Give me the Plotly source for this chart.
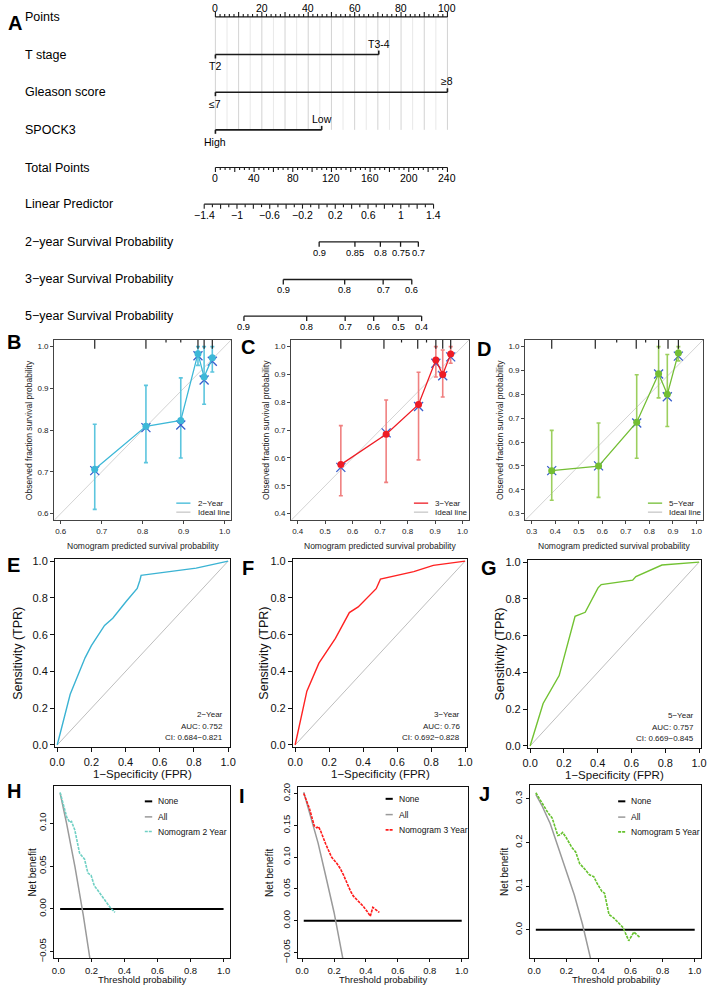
import plotly.graph_objects as go

FONT = "Liberation Sans, Arial, Helvetica, sans-serif"
W, H = 714, 992

# ======================= DATA =======================
# ---- A: nomogram ----
points_labels = [0, 20, 40, 60, 80, 100]
t_stage_levels = ["T2", "T3-4"]
t_stage_points = [0, 70.4]
gleason_levels = ["\u22647", "\u22658"]
gleason_points = [0, 100]
spock3_levels = ["High", "Low"]
spock3_points = [0, 45.8]
total_points_labels = [0, 40, 80, 120, 160, 200, 240]
lp_labels = [-1.4, -1, -0.6, -0.2, 0.2, 0.6, 1, 1.4]
lp_total_points = [-11.6, 225.6]          # total points at LP = -1.4 and LP = 1.4
surv2_labels = ["0.9", "0.85", "0.8", "0.75", "0.7"]
surv2_total_points = [107.3, 144.3, 170.6, 191.5, 209.9]
surv3_labels = ["0.9", "0.8", "0.7", "0.6"]
surv3_total_points = [70.2, 133.7, 173.5, 203.1]
surv5_labels = ["0.9", "0.8", "0.7", "0.6", "0.5", "0.4"]
surv5_total_points = [29.5, 94.4, 134.2, 163.7, 189.1, 213.3]

# ---- B-D: calibration ----
cal2_pred = [0.683, 0.808, 0.893, 0.935, 0.950, 0.970]
cal2_obs = [0.706, 0.809, 0.823, 0.983, 0.927, 0.973]
cal2_lo = [0.610, 0.722, 0.733, 0.955, 0.862, 0.939]
cal2_hi = [0.814, 0.907, 0.925, 1.000, 1.000, 1.000]
cal2_corr = [0.703, 0.806, 0.812, 0.978, 0.920, 0.965]
cal2_rug = [0.683, 0.808, 0.857, 0.893, 0.935, 0.950, 0.970]
cal2_rug_freq = [1.0, 1.0, 0.3, 0.3, 1.0, 1.0, 1.0]

cal3_pred = [0.557, 0.722, 0.840, 0.903, 0.928, 0.957]
cal3_obs = [0.576, 0.685, 0.792, 0.952, 0.900, 0.973]
cal3_lo = [0.464, 0.512, 0.593, 0.891, 0.819, 0.940]
cal3_hi = [0.716, 0.808, 0.908, 1.000, 0.988, 1.000]
cal3_corr = [0.566, 0.690, 0.785, 0.940, 0.895, 0.963]
cal3_rug = [0.557, 0.714, 0.778, 0.837, 0.869, 0.903, 0.928, 0.957]
cal3_rug_freq = [1.0, 1.0, 0.3, 1.0, 0.3, 1.0, 1.0, 1.0]

cal5_pred = [0.385, 0.584, 0.746, 0.839, 0.876, 0.923]
cal5_obs = [0.480, 0.499, 0.683, 0.886, 0.800, 0.973]
cal5_lo = [0.356, 0.368, 0.532, 0.785, 0.665, 0.940]
cal5_hi = [0.649, 0.680, 0.882, 1.000, 0.967, 1.000]
cal5_corr = [0.480, 0.500, 0.680, 0.885, 0.790, 0.960]
cal5_rug = [0.385, 0.570, 0.661, 0.744, 0.784, 0.839, 0.879, 0.923]
cal5_rug_freq = [1.0, 1.0, 0.3, 1.0, 0.3, 1.0, 1.0, 1.0]

# ---- E-G: ROC ----
roc2_fpr = [0.0, 0.076, 0.163, 0.20, 0.277, 0.325, 0.402, 0.468, 0.484, 0.491, 0.50, 0.698, 0.813, 1.0]
roc2_tpr = [0.0, 0.276, 0.474, 0.54, 0.650, 0.689, 0.779, 0.851, 0.896, 0.923, 0.924, 0.946, 0.962, 1.0]
roc2_auc, roc2_ci = "0.752", "0.684\u22120.821"
roc3_fpr = [0.0, 0.069, 0.140, 0.237, 0.319, 0.371, 0.477, 0.487, 0.502, 0.698, 0.813, 1.0]
roc3_tpr = [0.0, 0.293, 0.445, 0.580, 0.720, 0.751, 0.850, 0.875, 0.902, 0.943, 0.977, 1.0]
roc3_auc, roc3_ci = "0.76", "0.692\u22120.828"
roc5_fpr = [0.0, 0.077, 0.172, 0.266, 0.326, 0.402, 0.421, 0.607, 0.626, 0.780, 1.0]
roc5_tpr = [0.0, 0.231, 0.383, 0.705, 0.727, 0.860, 0.878, 0.902, 0.921, 0.984, 1.0]
roc5_auc, roc5_ci = "0.757", "0.669\u22120.845"

# ---- H-J: decision curves ----
none_thr = [0.01, 1.0]
none_nb = [0.0, 0.0]
dca2_all_thr = [0.01, 0.05, 0.10, 0.15, 0.20]
dca2_all_nb = [0.135, 0.099, 0.049, -0.007, -0.070]
dca2_thr = [0.01, 0.03, 0.05, 0.069, 0.079, 0.099, 0.128, 0.158, 0.178, 0.198, 0.217, 0.237, 0.277, 0.316, 0.342]
dca2_nb = [0.136, 0.120, 0.107, 0.101, 0.102, 0.092, 0.065, 0.058, 0.042, 0.039, 0.027, 0.022, 0.012, 0.001, -0.004]

dca3_all_thr = [0.01, 0.05, 0.10, 0.15, 0.20, 0.25, 0.27]
dca3_all_nb = [0.202, 0.165, 0.122, 0.068, 0.013, -0.053, -0.080]
dca3_thr = [0.01, 0.045, 0.076, 0.092, 0.102, 0.116, 0.147, 0.184, 0.218, 0.239, 0.259, 0.280, 0.304, 0.320,
            0.351, 0.382, 0.412, 0.427, 0.443, 0.473, 0.484]
dca3_nb = [0.200, 0.177, 0.149, 0.146, 0.148, 0.141, 0.121, 0.100, 0.090, 0.082, 0.072, 0.059, 0.046, 0.039,
           0.031, 0.023, 0.013, 0.007, 0.021, 0.015, 0.013]

dca5_all_thr = [0.01, 0.05, 0.10, 0.15, 0.20, 0.25, 0.30, 0.35, 0.37]
dca5_all_nb = [0.310, 0.283, 0.243, 0.190, 0.138, 0.080, 0.014, -0.062, -0.095]
dca5_thr = [0.01, 0.055, 0.086, 0.112, 0.147, 0.163, 0.177, 0.198, 0.234, 0.259, 0.283, 0.320, 0.344, 0.371,
            0.391, 0.422, 0.438, 0.466, 0.493, 0.523, 0.554, 0.589, 0.621, 0.658]
dca5_nb = [0.314, 0.287, 0.268, 0.256, 0.216, 0.218, 0.223, 0.212, 0.189, 0.178, 0.152, 0.137, 0.126, 0.122,
           0.107, 0.088, 0.084, 0.035, 0.028, 0.017, 0.005, -0.025, -0.005, -0.017]

# ======================= STYLE / LAYOUT CONSTANTS =======================
C2, C3, C5 = "#3DB8D7", "#EE1C25", "#73BE34"
E2, E3, E5 = "#5CC5DE", "#F08080", "#9CCF5E"
ROC_C = ["#3BB3D3", "#FF2222", "#72C232"]
DCA_C = ["#6FD0C4", "#FF1A1A", "#66C22E"]
BLUE_X = "#3A5FCD"

fig = go.Figure()
ann, shapes = [], []
layout_axes = {}


def xd(a, b):
    return [a / W, b / W]


def yd(top, bot):
    return [1 - bot / H, 1 - top / H]


def paper_text(txt, px, py, size, bold=False, anchor="center"):
    ann.append(dict(text=f"<b>{txt}</b>" if bold else txt, x=px / W, y=1 - py / H, xref="paper", yref="paper",
                    showarrow=False, xanchor=anchor, yanchor="middle",
                    font=dict(family=FONT, size=size, color="black")))


def segs(trace_x, trace_y, color, width, xa="x", ya="y", dash=None):
    fig.add_trace(go.Scatter(x=trace_x, y=trace_y, mode="lines", xaxis=xa, yaxis=ya,
                             line=dict(color=color, width=width, dash=dash), hoverinfo="skip",
                             showlegend=False))


# ======================= A: NOMOGRAM =======================
ROW = dict(points=13, tstage=51, gleason=89, spock=127, total=165, lp=202, s2=240, s3=278, s5=315)
LINE_C = "#1a1a1a"


def tp2p(tp):
    return tp * 100.0 / 240.0


def lp2p(lp):
    a, b = lp_total_points
    return tp2p(a + (lp - lp_labels[0]) / (lp_labels[-1] - lp_labels[0]) * (b - a))


def ntext(txt, x, y, size=10):
    ann.append(dict(text=txt, x=x, y=y, xref="x", yref="y", showarrow=False, xanchor="center",
                    yanchor="middle", font=dict(family=FONT, size=size, color="black")))


# vertical grid lines
gx, gy, gx2, gy2 = [], [], [], []
for i in range(0, 101, 5):
    if i % 10 == 0:
        gx += [i, i, None]; gy += [ROW["points"], ROW["spock"], None]
    else:
        gx2 += [i, i, None]; gy2 += [ROW["points"], ROW["spock"], None]
segs(gx2, gy2, "#e2e2e2", 0.8)
segs(gx, gy, "#c8c8c8", 0.8)

# Points axis (ticks up, labels above)
xs, ys = [0, 100, None], [ROW["points"]] * 2 + [None]
for i in range(0, 101, 2):
    L = 5 if i % 10 == 0 else 3
    xs += [i, i, None]; ys += [ROW["points"], ROW["points"] - L, None]
segs(xs, ys, LINE_C, 1.1)
for v in points_labels:
    ntext(str(v), v, ROW["points"] - 9, 10.5)


def level_row(levels, pts, row):
    xs = [pts[0], pts[-1], None, pts[0], pts[0], None, pts[-1], pts[-1], None]
    ys = [row, row, None, row, row + 4, None, row, row - 4, None]
    segs(xs, ys, LINE_C, 1.6)
    ntext(levels[0], pts[0], row + 12, 10.5)
    ntext(levels[-1], pts[-1], row - 11, 10.5)


level_row(t_stage_levels, t_stage_points, ROW["tstage"])
level_row(gleason_levels, gleason_points, ROW["gleason"])
level_row(spock3_levels, spock3_points, ROW["spock"])

# Total points
r = ROW["total"]
xs, ys = [tp2p(0), tp2p(240), None], [r, r, None]
for t in range(0, 241, 5):
    L = 4.5 if t % 20 == 0 else 2.5
    xs += [tp2p(t), tp2p(t), None]; ys += [r, r + L, None]
segs(xs, ys, LINE_C, 1.1)
for v in total_points_labels:
    ntext(str(v), tp2p(v), r + 11, 10.5)

# Linear predictor
r = ROW["lp"]
xs, ys = [lp2p(-1.4), lp2p(1.4), None], [r, r, None]
for k in range(-14, 15):
    L = 4.5 if k % 2 == 0 else 3
    xs += [lp2p(k / 10), lp2p(k / 10), None]; ys += [r, r + L, None]
segs(xs, ys, LINE_C, 1.1)
for v in lp_labels:
    ntext(("\u2212" if v < 0 else "") + f"{abs(v):g}", lp2p(v), r + 11, 10.5)


def surv_row(labels, tps, row):
    xs = [tp2p(tps[0]), tp2p(tps[-1]), None]
    ys = [row, row, None]
    for t in tps:
        xs += [tp2p(t), tp2p(t), None]; ys += [row, row + 5, None]
    segs(xs, ys, LINE_C, 1.3)
    for lab, t in zip(labels, tps):
        ntext(lab, tp2p(t), row + 11, 9.3)


surv_row(surv2_labels, surv2_total_points, ROW["s2"])
surv_row(surv3_labels, surv3_total_points, ROW["s3"])
surv_row(surv5_labels, surv5_total_points, ROW["s5"])

row_names = [("Points", "points"), ("T stage", "tstage"), ("Gleason score", "gleason"), ("SPOCK3", "spock"),
             ("Total Points", "total"), ("Linear Predictor", "lp"),
             ("2\u2212year Survival Probability", "s2"), ("3\u2212year Survival Probability", "s3"),
             ("5\u2212year Survival Probability", "s5")]
for name, key in row_names:
    ann.append(dict(text=name, x=17 / W, y=ROW[key], xref="paper", yref="y", showarrow=False,
                    xanchor="left", yanchor="middle", font=dict(family=FONT, size=12.5, color="black")))

layout_axes["xaxis"] = dict(domain=[0, 1], range=[-213 / 2.36, (W - 213) / 2.36], visible=False, fixedrange=True)
layout_axes["yaxis"] = dict(domain=yd(0, 335), range=[335, 0], visible=False, fixedrange=True)


# ======================= B-D: CALIBRATION =======================
def cal_panel(n, box, rng, ticks, pred, obs, lo, hi, corr, rug, rugf, col, ecol, name):
    xa, ya = f"x{n}", f"y{n}"
    x0, x1, y0, y1 = box
    fig.add_trace(go.Scatter(x=[0, 1.2], y=[0, 1.2], mode="lines", xaxis=xa, yaxis=ya,
                             line=dict(color="#D3D3D3", width=1), hoverinfo="skip", showlegend=False))
    fig.add_trace(go.Scatter(x=pred, y=obs, mode="markers", xaxis=xa, yaxis=ya, hoverinfo="skip",
                             showlegend=False, marker=dict(size=0.1, color=ecol),
                             error_y=dict(type="data", symmetric=False,
                                          array=[h - o for h, o in zip(hi, obs)],
                                          arrayminus=[o - l for o, l in zip(obs, lo)],
                                          color=ecol, thickness=1.6, width=2)))
    fig.add_trace(go.Scatter(x=pred, y=corr, mode="markers", xaxis=xa, yaxis=ya, hoverinfo="skip",
                             showlegend=False,
                             marker=dict(symbol="x-thin", size=9, line=dict(color=BLUE_X, width=1.3))))
    fig.add_trace(go.Scatter(x=pred, y=obs, mode="lines+markers", xaxis=xa, yaxis=ya, hoverinfo="skip",
                             showlegend=False, line=dict(color=col, width=1.3),
                             marker=dict(size=7, color=col)))
    for rx, f in zip(rug, rugf):
        shapes.append(dict(type="line", xref=xa, yref=f"{ya} domain", x0=rx, x1=rx, y0=1,
                           y1=1 - f * 9 / (y1 - y0), line=dict(color="#222", width=1.2)))
    # legend
    for k, (lab, c) in enumerate([(name, col), ("Ideal line", "#C8C8C8")]):
        yy = 0.095 - k * 0.05
        shapes.append(dict(type="line", xref=f"{xa} domain", yref=f"{ya} domain", x0=0.69, x1=0.77,
                           y0=yy, y1=yy, line=dict(color=c, width=1.3)))
        ann.append(dict(text=lab, xref=f"{xa} domain", yref=f"{ya} domain", x=0.80, y=yy, showarrow=False,
                        xanchor="left", yanchor="middle", font=dict(family=FONT, size=8, color="#222")))
    ann.append(dict(text="Observed fraction survival probability", xref=f"{xa} domain", yref=f"{ya} domain",
                    x=-0.142, y=0.5, textangle=-90, showarrow=False, xanchor="center", yanchor="middle",
                    font=dict(family=FONT, size=8.5, color="#222")))
    ann.append(dict(text="Nomogram predicted survival probability", xref=f"{xa} domain", yref=f"{ya} domain",
                    x=0.5, y=-0.143, showarrow=False, xanchor="center", yanchor="middle",
                    font=dict(family=FONT, size=8.5, color="#222")))
    common = dict(showgrid=False, zeroline=False, showline=True, mirror=True, linecolor="#444", linewidth=1,
                  ticks="outside", ticklen=3, tickcolor="#444", tickformat=".1f",
                  tickfont=dict(family=FONT, size=8, color="#222"), fixedrange=True, tickvals=ticks)
    layout_axes[f"xaxis{n}"] = dict(domain=xd(x0, x1), range=rng, anchor=ya, **common)
    layout_axes[f"yaxis{n}"] = dict(domain=yd(y0, y1), range=rng, anchor=xa, **common)


cal_panel(2, (49, 229, 339, 521), [0.584, 1.016], [0.6, 0.7, 0.8, 0.9, 1.0],
          cal2_pred, cal2_obs, cal2_lo, cal2_hi, cal2_corr, cal2_rug, cal2_rug_freq, C2, E2, "2\u2212Year")
cal_panel(3, (290, 471, 339, 521), [0.376, 1.024], [0.4, 0.5, 0.6, 0.7, 0.8, 0.9, 1.0],
          cal3_pred, cal3_obs, cal3_lo, cal3_hi, cal3_corr, cal3_rug, cal3_rug_freq, C3, E3, "3\u2212Year")
cal_panel(4, (528, 709, 339, 521), [0.272, 1.028], [0.3, 0.4, 0.5, 0.6, 0.7, 0.8, 0.9, 1.0],
          cal5_pred, cal5_obs, cal5_lo, cal5_hi, cal5_corr, cal5_rug, cal5_rug_freq, C5, E5, "5\u2212Year")


# ======================= E-G: ROC =======================
def roc_panel(n, box, fpr, tpr, col, name, auc, ci, ytitle_x):
    xa, ya = f"x{n}", f"y{n}"
    x0, x1, y0, y1 = box
    fig.add_trace(go.Scatter(x=[0, 1], y=[0, 1], mode="lines", xaxis=xa, yaxis=ya,
                             line=dict(color="#BEBEBE", width=1), hoverinfo="skip", showlegend=False))
    fig.add_trace(go.Scatter(x=fpr, y=tpr, mode="lines", xaxis=xa, yaxis=ya,
                             line=dict(color=col, width=1.4), hoverinfo="skip", showlegend=False))
    for k, t in enumerate([name, "AUC: " + auc, "CI: " + ci]):
        ann.append(dict(text=t, xref=f"{xa} domain", yref=f"{ya} domain", x=0.97, y=0.175 - k * 0.063,
                        showarrow=False, xanchor="right", yanchor="middle",
                        font=dict(family=FONT, size=8, color="#222")))
    ann.append(dict(text="Sensitivity (TPR)", xref=f"{xa} domain", yref=f"{ya} domain",
                    x=(ytitle_x - x0) / (x1 - x0), y=0.5, textangle=-90, showarrow=False,
                    xanchor="center", yanchor="middle", font=dict(family=FONT, size=12.5, color="#111")))
    ann.append(dict(text="1\u2212Specificity (FPR)", xref=f"{xa} domain", yref=f"{ya} domain",
                    x=0.5, y=-0.142, showarrow=False, xanchor="center", yanchor="middle",
                    font=dict(family=FONT, size=11.5, color="#111")))
    common = dict(showgrid=False, zeroline=False, showline=True, mirror=True, linecolor="#111", linewidth=1.2,
                  ticks="outside", ticklen=4, tickcolor="#111", tickformat=".1f",
                  tickvals=[0, 0.2, 0.4, 0.6, 0.8, 1.0], range=[-0.012, 1.012],
                  tickfont=dict(family=FONT, size=11, color="#111"), fixedrange=True)
    layout_axes[f"xaxis{n}"] = dict(domain=xd(x0, x1), anchor=ya, **common)
    layout_axes[f"yaxis{n}"] = dict(domain=yd(y0, y1), anchor=xa, **common)


roc_panel(5, (50, 228, 560, 750), roc2_fpr, roc2_tpr, ROC_C[0], "2\u2212Year", roc2_auc, roc2_ci, 12)
roc_panel(6, (292, 469, 560, 750), roc3_fpr, roc3_tpr, ROC_C[1], "3\u2212Year", roc3_auc, roc3_ci, 262)
roc_panel(7, (531, 707, 561, 751), roc5_fpr, roc5_tpr, ROC_C[2], "5\u2212Year", roc5_auc, roc5_ci, 502)


# ======================= H-J: DCA =======================
def dca_panel(n, box, yr, yticks, yfmt, all_t, all_nb, thr, nb, col, name, leg_rows, ytitle_x):
    xa, ya = f"x{n}", f"y{n}"
    x0, x1, y0, y1 = box
    fig.add_trace(go.Scatter(x=none_thr, y=none_nb, mode="lines", xaxis=xa, yaxis=ya,
                             line=dict(color="black", width=2), hoverinfo="skip", showlegend=False))
    fig.add_trace(go.Scatter(x=all_t, y=all_nb, mode="lines", xaxis=xa, yaxis=ya,
                             line=dict(color="#9A9A9A", width=1.5), hoverinfo="skip", showlegend=False))
    fig.add_trace(go.Scatter(x=thr, y=nb, mode="lines", xaxis=xa, yaxis=ya,
                             line=dict(color=col, width=1.6, dash="3px,1px"), hoverinfo="skip",
                             showlegend=False))
    for (lab, c, w, d), yy in zip([("None", "black", 2, None), ("All", "#9A9A9A", 1.5, None),
                                   (name, col, 1.6, "3px,1px")], leg_rows):
        shapes.append(dict(type="line", xref=f"{xa} domain", yref=f"{ya} domain", x0=0.515, x1=0.557,
                           y0=yy, y1=yy, line=dict(color=c, width=w, dash=d)))
        ann.append(dict(text=lab, xref=f"{xa} domain", yref=f"{ya} domain", x=0.58, y=yy, showarrow=False,
                        xanchor="left", yanchor="middle", font=dict(family=FONT, size=8.5, color="#111")))
    ann.append(dict(text="Net benefit", xref=f"{xa} domain", yref=f"{ya} domain",
                    x=(ytitle_x - x0) / (x1 - x0), y=0.5, textangle=-90, showarrow=False,
                    xanchor="center", yanchor="middle", font=dict(family=FONT, size=10, color="#111")))
    ann.append(dict(text="Threshold probability", xref="paper", yref="paper",
                    x=(x0 + x1) / 2 / W, y=0, showarrow=False, xanchor="center", yanchor="bottom",
                    font=dict(family=FONT, size=9.5, color="#111")))
    common = dict(showgrid=False, zeroline=False, showline=True, mirror=True, linecolor="#111", linewidth=1.2,
                  ticks="outside", ticklen=3, tickcolor="#111",
                  tickfont=dict(family=FONT, size=9.5, color="#111"), fixedrange=True)
    layout_axes[f"xaxis{n}"] = dict(domain=xd(x0, x1), anchor=ya, range=[-0.026, 1.04],
                                    tickvals=[0, 0.2, 0.4, 0.6, 0.8, 1.0], tickformat=".1f", **common)
    layout_axes[f"yaxis{n}"] = dict(domain=yd(y0, y1), anchor=xa, range=yr, tickvals=yticks,
                                    tickformat=yfmt, tickangle=-90, **common)


dca_panel(8, (49, 228, 789, 963), [-0.0576, 0.1436], [-0.05, 0, 0.05, 0.10], ".2f",
          dca2_all_thr, dca2_all_nb, dca2_thr, dca2_nb, DCA_C[0], "Nomogram 2 Year", [0.91, 0.82, 0.735], 27)
dca_panel(9, (297, 470, 790, 963), [-0.059, 0.2105], [-0.05, 0, 0.05, 0.10, 0.15, 0.20], ".2f",
          dca3_all_thr, dca3_all_nb, dca3_thr, dca3_nb, DCA_C[1], "Nomogram 3 Year", [0.93, 0.838, 0.749], 268)
dca_panel(10, (533, 707, 788, 963), [-0.065, 0.332], [0.0, 0.1, 0.2, 0.3], ".1f",
          dca5_all_thr, dca5_all_nb, dca5_thr, dca5_nb, DCA_C[2], "Nomogram 5 Year", [0.905, 0.814, 0.729], 507)

# ======================= PANEL LETTERS =======================
for L, px, py in [("A", 9, 19), ("B", 8, 341), ("C", 246, 346), ("D", 486, 348),
                  ("E", 8, 566), ("F", 246, 569), ("G", 491, 569),
                  ("H", 8, 794), ("I", 240, 799), ("J", 487, 797)]:
    paper_text(L, px, py, 20, bold=True)

fig.update_layout(width=W, height=H, margin=dict(l=0, r=0, t=0, b=0), paper_bgcolor="white",
                  plot_bgcolor="rgba(0,0,0,0)", showlegend=False, annotations=ann, shapes=shapes,
                  font=dict(family=FONT), **layout_axes)
fig.write_html("out.html", config={"displayModeBar": False, "staticPlot": True},
               post_script="document.body.style.margin='0px';document.body.style.overflow='hidden';")
